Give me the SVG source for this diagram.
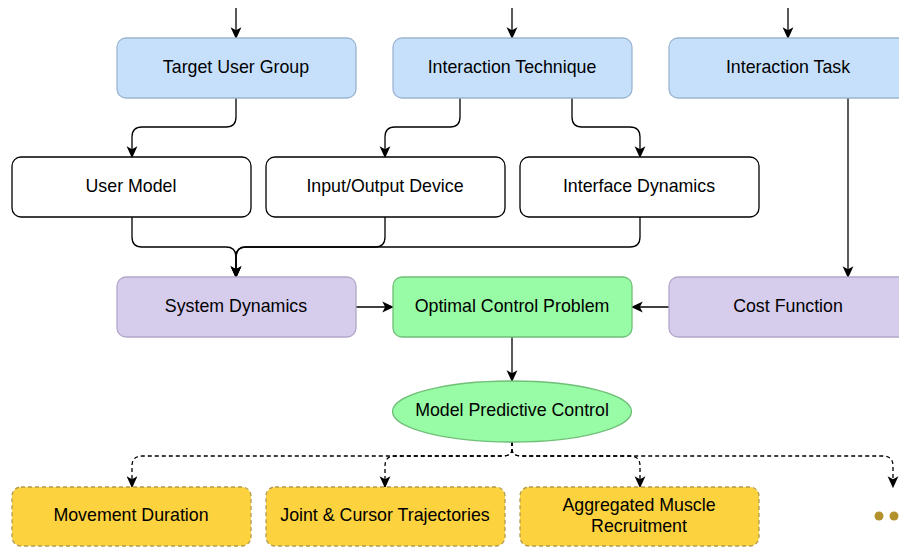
<svg xmlns="http://www.w3.org/2000/svg" width="899" height="547" viewBox="0 0 899 547">
  <defs>
    <marker id="arrow" viewBox="0 0 10 10" refX="9" refY="5" markerWidth="12" markerHeight="12" markerUnits="userSpaceOnUse" orient="auto">
      <path d="M0,0.5 L10,5 L0,9.5 L2.5,5 Z" fill="#000"/>
    </marker>
    <style>
      .box { stroke-width: 1.3; }
      .blue { fill: #c6e0fc; stroke: #9bb5d0; }
      .white { fill: #ffffff; stroke: #000000; }
      .purple { fill: #d6ccec; stroke: #b2a7c8; }
      .green { fill: #98fba5; stroke: #6fbf78; }
      .yellow { fill: #fdd23f; stroke: #b19b4d; stroke-dasharray: 4 3; }
      .label { font-family: "Liberation Sans", Arial, sans-serif; font-size: 17.8px; fill: #000; text-anchor: middle; dominant-baseline: central; }
      .edge { fill: none; stroke: #000; stroke-width: 1.3; marker-end: url(#arrow); }
      .dash { stroke-dasharray: 4 3; }
    </style>
  </defs>
  <rect width="899" height="547" fill="#ffffff"/>

  <!-- connectors -->
  <g id="connectors">
    <path class="edge" d="M236 8 V38"/>
    <path class="edge" d="M512 8 V38"/>
    <path class="edge" d="M788 8 V38"/>
    <path class="edge" d="M236 98 V117 Q236 127 226 127 H142 Q132 127 132 137 V157"/>
    <path class="edge" d="M460 98 V117 Q460 127 450 127 H395 Q385 127 385 137 V157"/>
    <path class="edge" d="M572 98 V117 Q572 127 582 127 H630 Q640 127 640 137 V157"/>
    <path class="edge" d="M848 98 V277"/>
    <path class="edge" d="M132 217 V237 Q132 247 142 247 H226 Q236 247 236 257 V277"/>
    <path class="edge" d="M385 217 V237 Q385 247 375 247 H246 Q236 247 236 257 V277"/>
    <path class="edge" d="M640 217 V237 Q640 247 630 247 H246 Q236 247 236 257 V277"/>
    <path class="edge" d="M356 307 H393"/>
    <path class="edge" d="M669 307 H632"/>
    <path class="edge" d="M512 337 V381"/>
    <path class="edge dash" d="M512 442 V449 Q512 456 502 456 H142 Q132 456 132 466 V487"/>
    <path class="edge dash" d="M512 442 V449 Q512 456 502 456 H395 Q385 456 385 466 V487"/>
    <path class="edge dash" d="M512 442 V449 Q512 456 522 456 H630 Q640 456 640 466 V487"/>
    <path class="edge dash" d="M512 442 V449 Q512 456 522 456 H883 Q893 456 893 466 V487"/>
  </g>

  <!-- top row -->
  <g id="target-user-group">
    <rect class="box blue" x="117" y="38" width="239" height="60" rx="9"/>
    <text class="label" x="236" y="67">Target User Group</text>
  </g>
  <g id="interaction-technique">
    <rect class="box blue" x="393" y="38" width="239" height="60" rx="9"/>
    <text class="label" x="512" y="67">Interaction Technique</text>
  </g>
  <g id="interaction-task">
    <rect class="box blue" x="669" y="38" width="239" height="60" rx="9"/>
    <text class="label" x="788" y="67">Interaction Task</text>
  </g>

  <!-- second row -->
  <g id="user-model">
    <rect class="box white" x="12" y="157" width="239" height="60" rx="9"/>
    <text class="label" x="131" y="186">User Model</text>
  </g>
  <g id="io-device">
    <rect class="box white" x="266" y="157" width="239" height="60" rx="9"/>
    <text class="label" x="385" y="186">Input/Output Device</text>
  </g>
  <g id="interface-dynamics">
    <rect class="box white" x="520" y="157" width="239" height="60" rx="9"/>
    <text class="label" x="639" y="186">Interface Dynamics</text>
  </g>

  <!-- third row -->
  <g id="system-dynamics">
    <rect class="box purple" x="117" y="277" width="239" height="60" rx="9"/>
    <text class="label" x="236" y="306">System Dynamics</text>
  </g>
  <g id="optimal-control-problem">
    <rect class="box green" x="393" y="277" width="239" height="60" rx="9"/>
    <text class="label" x="512" y="306">Optimal Control Problem</text>
  </g>
  <g id="cost-function">
    <rect class="box purple" x="669" y="277" width="239" height="60" rx="9"/>
    <text class="label" x="788" y="306">Cost Function</text>
  </g>

  <!-- controller -->
  <g id="model-predictive-control">
    <ellipse class="box green" cx="512" cy="411.5" rx="119.5" ry="30.5"/>
    <text class="label" x="512" y="410">Model Predictive Control</text>
  </g>

  <!-- outputs -->
  <g id="movement-duration">
    <rect class="box yellow" x="12" y="487" width="239" height="59" rx="9"/>
    <text class="label" x="131" y="515">Movement Duration</text>
  </g>
  <g id="joint-cursor-trajectories">
    <rect class="box yellow" x="266" y="487" width="239" height="59" rx="9"/>
    <text class="label" x="385" y="515">Joint &amp; Cursor Trajectories</text>
  </g>
  <g id="aggregated-muscle-recruitment">
    <rect class="box yellow" x="520" y="487" width="239" height="59" rx="9"/>
    <text class="label" x="639" y="505">Aggregated Muscle</text>
    <text class="label" x="639" y="526">Recruitment</text>
  </g>
  <g id="more-outputs">
    <circle cx="879" cy="516" r="4.5" fill="#b3922d"/>
    <circle cx="894" cy="516" r="4.5" fill="#b3922d"/>
  </g>
</svg>
